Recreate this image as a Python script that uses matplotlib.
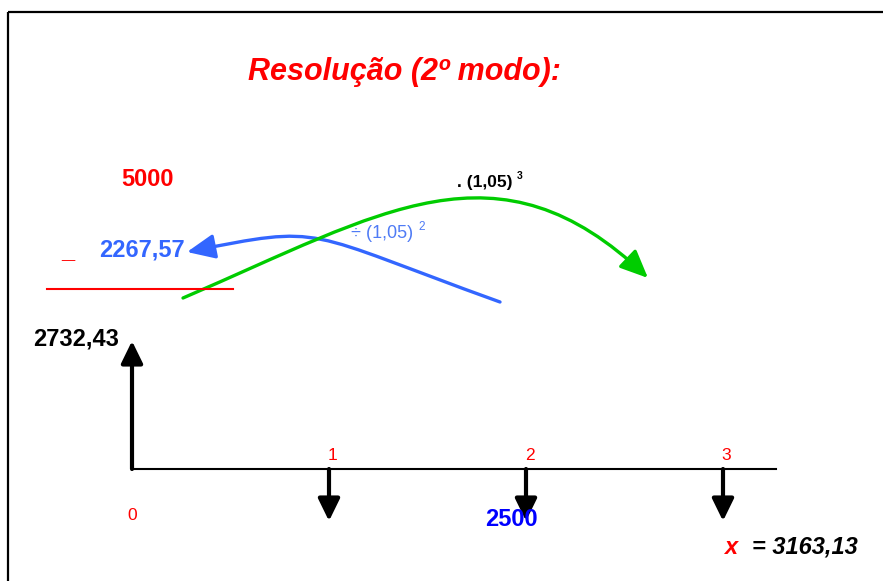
import matplotlib.pyplot as plt
from matplotlib.patches import FancyArrowPatch
from matplotlib.path import Path
from matplotlib.transforms import Affine2D

plt.rcParams['font.family'] = ['Liberation Sans', 'DejaVu Sans']

# cash flow (periods and direction of each flow: +1 entrada, -1 saida)
periods = [0, 1, 2, 3]
directions = [1, -1, -1, -1]
period_labels = ['0', '1', '2', '3']

title = 'Resolução (2º modo):'
present_value = '2732,43'
payment_2 = '2500'
final_value = '= 3163,13'
unknown = 'x'
total_value = '5000'
discounted_value = '2267,57'
rate_factor = '(1,05)'
exp_fwd = '3'
exp_back = '2'

RED = '#ff0000'
BLUE = '#3366ff'
GREEN = '#00cc00'

fig = plt.figure(figsize=(8.83, 5.81), dpi=100)
ax = fig.add_axes([0, 0, 1, 1])
ax.set_xlim(0, 883)
ax.set_ylim(581, 0)
ax.axis('off')

# period -> pixel scale for the timeline
x0, step, y_line = 132, 197, 469
per = Affine2D().scale(step, 1).translate(x0, 0) + ax.transData

# frame (only top and left edges visible)
ax.plot([8, 883], [12, 12], color='black', lw=1.6, solid_capstyle='butt')
ax.plot([8, 8], [12, 581], color='black', lw=1.6, solid_capstyle='butt')

ax.text(404, 72, title, color=RED, fontsize=22, fontweight='bold',
        fontstyle='italic', ha='center', va='center')

# timeline
ax.plot([x0, 776], [y_line, y_line], color='black', lw=1.5)

for p, d, lbl in zip(periods, directions, period_labels):
    tip = y_line - 128 if d > 0 else y_line + 52
    ax.annotate('', xy=(p, tip), xycoords=per, xytext=(p, y_line), textcoords=per,
                arrowprops=dict(arrowstyle='-|>,head_length=0.45,head_width=0.22',
                                color='black', lw=3, mutation_scale=30,
                                shrinkA=0, shrinkB=0))
    ly = 515 if d > 0 else 455
    dx = 0 if d > 0 else 2.5
    ax.annotate(lbl, xy=(p, ly), xycoords=per, xytext=(dx, 0),
                textcoords='offset points', color=RED, fontsize=12.5,
                ha='center', va='center')

ax.text(76, 339, present_value, fontsize=17, fontweight='bold', ha='center', va='center')
ax.text(511, 519, payment_2, color='#0000ff', fontsize=17, fontweight='bold',
        ha='center', va='center')
ax.text(731, 547, unknown, color=RED, fontsize=17, fontweight='bold',
        fontstyle='italic', ha='center', va='center')
ax.text(752, 547, final_value, fontsize=17, fontweight='bold',
        fontstyle='italic', ha='left', va='center')

# subtraction on the left
ax.text(147, 180, total_value, color=RED, fontsize=17, fontweight='bold',
        ha='center', va='center')
ax.text(142, 250, discounted_value, color=BLUE, fontsize=17, fontweight='bold',
        ha='center', va='center')
ax.text(67.5, 258, '_', color=RED, fontsize=17, fontweight='bold',
        ha='center', va='baseline')
ax.plot([47, 233], [289, 289], color=RED, lw=1.5)

# curved arrows
codes = [Path.MOVETO, Path.CURVE4, Path.CURVE4, Path.CURVE4]
green = Path([(183, 298), (383, 212), (498, 135), (648, 278)], codes)
blue = Path([(500, 302), (300, 230), (327, 224), (187, 252)], codes)
for pth, col in [(blue, BLUE), (green, GREEN)]:
    ax.add_patch(FancyArrowPatch(path=pth, arrowstyle='-|>,head_length=1.7,head_width=0.75',
                                 mutation_scale=10, lw=2.4, color=col))

ax.text(457, 183, '. ' + rate_factor, fontsize=12.5, fontweight='bold',
        ha='left', va='center')
ax.text(520, 176, exp_fwd, fontsize=7.5, fontweight='bold', ha='center', va='center')
ax.text(351, 234, '÷ ' + rate_factor, color='#4f7bf5', fontsize=13,
        ha='left', va='center')
ax.text(422, 227, exp_back, color='#4f7bf5', fontsize=8.5, ha='center', va='center')

fig.savefig('out.png', dpi=100)
